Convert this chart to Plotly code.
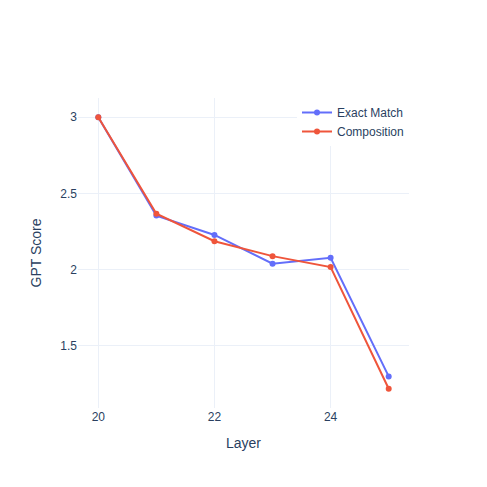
import plotly.graph_objects as go

layers = [20, 21, 22, 23, 24, 25]
exact_match = [3.0, 2.355, 2.228, 2.039, 2.078, 1.30]
composition = [3.0, 2.367, 2.187, 2.089, 2.017, 1.219]

fig = go.Figure()
fig.add_trace(go.Scatter(x=layers, y=exact_match, mode="lines+markers", name="Exact Match"))
fig.add_trace(go.Scatter(x=layers, y=composition, mode="lines+markers", name="Composition"))

# page body has an 8px margin, so shrink the figure by that much
fig.update_layout(
    template="plotly_white",
    width=479, height=479,
    margin=dict(l=70, r=78, t=90, b=79),
    font=dict(family="Liberation Sans, Arial, sans-serif"),
    xaxis_title="Layer",
    yaxis_title="GPT Score",
    legend=dict(x=1, y=1, xanchor="right", yanchor="top"),
)

fig.write_html("out.html")
